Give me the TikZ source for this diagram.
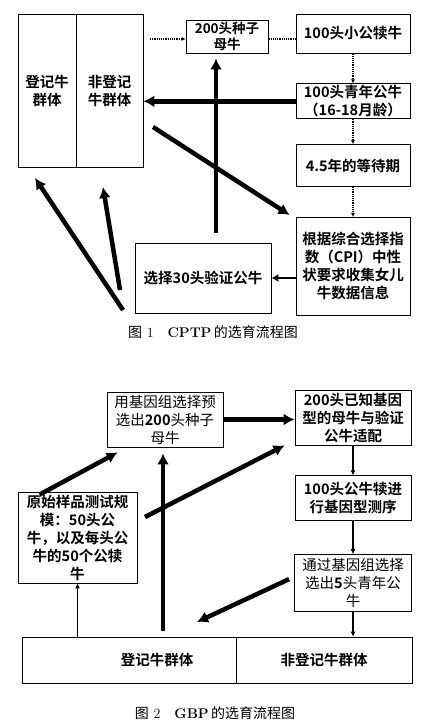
\documentclass[tikz,border=0pt]{standalone}
\usepackage{fontspec}
\usetikzlibrary{arrows.meta,positioning,calc}
\newfontfamily\cjk{Noto Sans CJK SC}[BoldFont={Noto Sans CJK SC Bold}]

\begin{document}
\begin{tikzpicture}[
    x=1pt, y=-1pt,
    >={Latex[length=11pt,width=12pt]},
    box/.style={draw, line width=0.8pt, inner xsep=2pt, inner ysep=0pt, align=center, font=\cjk\bfseries\fontsize{14.5}{18}\selectfont},
    colbox/.style={box, minimum width=114pt},
    lite/.style={box, font=\cjk\fontsize{14.5}{18}\selectfont},
    dots/.style={-{Latex[length=4pt,width=4pt]}, line width=1.2pt, densely dotted},
    heavy/.style={->, line width=4.5pt},
    mid/.style={-{Latex[length=7pt,width=8pt]}, line width=2.5pt},
    thin/.style={-{Latex[length=5pt,width=5pt]}, line width=1.8pt},
    captext/.style={font=\fontsize{14}{16}\selectfont}
]
\useasboundingbox (0,0) rectangle (437,727);

% --- Figure 1: CPTP ---
\node[box, minimum width=58pt, minimum height=153pt, text depth=-14pt] (reg) at (47,90.5) {登记牛\\群体};
\node[box, minimum width=67pt, minimum height=153pt, text depth=-14pt] (nonreg) at (109.5,90.5) {非登记\\牛群体};
\node[box, minimum width=82pt, minimum height=33pt, font=\cjk\bfseries\fontsize{13.5}{16}\selectfont] (seed) at (227,36.5) {200头种子\\母牛};
\node[colbox, minimum height=39pt] (calf) at (353,33.5) {100头小公犊牛};
\node[colbox, minimum height=35pt, below=30pt of calf] (young) {100头青年公牛\\（16-18月龄）};
\node[colbox, minimum height=42pt, below=25pt of young] (wait) {4.5年的等待期};
\node[colbox, minimum height=98pt, below=30pt of wait] (cpi) {根据综合选择指\\数（CPI）中性\\状要求收集女儿\\牛数据信息};
\node[box, minimum width=136pt, minimum height=70pt] (b30) at (203,278) {选择30头验证公牛};

\coordinate (in1) at (150,39);
\coordinate (up1) at (216,233);
\coordinate (cross1) at (153,127);
\coordinate (back1) at (123,310);
\coordinate (back2) at (120,290);
\coordinate (tip1) at (35,178);
\coordinate (tip2) at (103,187);

\draw[dots] (in1) -- (in1 -| seed.west);
\draw[line width=1.2pt, densely dotted] (seed.east |- in1) -- (calf.west |- in1);
\draw[dots] (calf) -- (young);
\draw[dots] (young) -- (wait);
\draw[dots] (wait) -- (cpi);
\draw[heavy] (young.west) -- (young.west -| nonreg.east);
\draw[heavy, shorten >=5pt] (up1) -- (up1 |- seed.south);
\draw[heavy] (cross1) -- ($(cpi.north west)+(-6,-2)$);
\draw[mid] (cpi.west |- b30.east) -- (b30.east);
\draw[heavy] (back1) -- (tip1);
\draw[heavy] (back2) -- (tip2);

\node[captext] (cap1) at (213,332) {{\cjk 图}\space1\quad\textbf{CPTP}\,{\cjk 的选育流程图}};

% --- Figure 2: GBP ---
\node[lite, minimum width=116pt, minimum height=55pt] (pre) at (165,419.5) {用基因组选择预\\选出\textbf{200}头种子\\母牛};
\node[colbox, minimum width=116pt, minimum height=55pt] (match) at (353,417.5) {200头已知基因\\型的母牛与验证\\公牛适配};
\node[colbox, minimum width=116pt, minimum height=45pt, below=30pt of match] (seq) {100头公牛犊进\\行基因型测序};
\node[lite, minimum width=117pt, minimum height=57pt, below=33pt of seq] (sel) {通过基因组选择\\选出\textbf{5}头青年公\\牛};
\node[box, minimum width=119pt, minimum height=91pt] (orig) at (77.5,537.5) {原始样品测试规\\模：50头公\\牛，以及每头公\\牛的50个公犊\\牛};
\node[box, minimum width=214pt, minimum height=46pt] (reg2) at (129,660) {\hspace*{56pt}登记牛群体};
\node[box, minimum width=176pt, minimum height=46pt] (nonreg2) at (324,660) {非登记牛群体};

\coordinate (up2) at (163,631);
\coordinate (cross2) at (145,517);
\coordinate (down2) at (197,622);

\draw[heavy] (pre.east) -- (pre.east -| match.west);
\draw[thin] (match) -- (seq);
\draw[thin] (seq) -- (sel);
\draw[thin] (sel) -- (sel |- nonreg2.north);
\draw[thin] (orig.south |- reg2.north) -- (orig.south);
\draw[heavy] ($(orig.north west)+(22,3)$) -- ($(pre.south west)+(11,5)$);
\draw[heavy] (cross2) -- ($(match.south west)+(-10,0)$);
\draw[heavy] (up2) -- ($(pre.south)+(-2,6)$);
\draw[heavy] ($(sel.west)+(-5,-4)$) -- (down2);

\node[captext] (cap2) at (215,713) {{\cjk 图}\space2\quad\textbf{GBP}\,{\cjk 的选育流程图}};
\end{tikzpicture}
\end{document}
